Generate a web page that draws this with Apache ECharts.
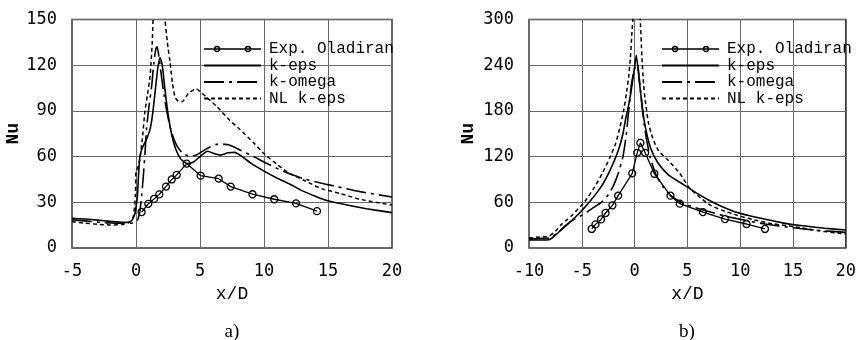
<!DOCTYPE html>
<html><head><meta charset="utf-8">
<script src="https://cdn.jsdelivr.net/npm/echarts@6/dist/echarts.min.js"></script>
<style>html,body{margin:0;padding:0;background:#fff}#c{width:859px;height:340px}</style>
</head><body><div id="c"></div>
<script>
const seriesNames = ['Exp. Oladiran', 'k-eps', 'k-omega', 'NL k-eps'];
const panelLabels = ['a)', 'b)'];
const xName = 'x/D', yName = 'Nu';
const leftXTicks = [-5, 20, 5];
const leftYTicks = [0, 150, 30];
const rightXTicks = [-10, 20, 5];
const rightYTicks = [0, 300, 60];

// panel a)
const leftExp = [[0.44,23.6],[0.96,29],[1.41,32.2],[1.82,35.2],[2.34,40.3],[2.79,45],[3.18,48],[3.96,55.4],[5.05,47.5],[6.46,45.5],[7.4,40.3],[9.1,35.3],[10.8,32],[12.5,29.3],[14.14,24.2]];
const leftKeps = [[-5,19.5],[-4,19],[-3,18.3],[-2,17.5],[-1,16.8],[-0.4,17.5],[-0.1,22],[0,27],[0.1,33],[0.2,48],[0.3,60],[0.5,66],[0.8,71],[1.1,78],[1.3,88],[1.5,103],[1.7,118],[1.88,125],[2.05,120],[2.25,105],[2.5,88],[2.8,74],[3.1,65],[3.5,58.5],[4.0,55.5],[4.5,56.5],[5.0,60],[5.6,63.5],[6.1,62],[6.6,61],[7.2,62.5],[7.7,62.8],[8.3,60],[9,55.5],[10,50.5],[11,46],[12,42],[13,37.5],[14,34],[15,31],[16.5,28.2],[18,25.8],[20,23.2]];
const leftKomega = [[-5,18.5],[-4,17.8],[-3,17],[-2,16.4],[-1,16.2],[-0.2,16.5],[0.1,18],[0.3,24],[0.45,35],[0.57,47],[0.7,62],[0.83,79],[1.0,92],[1.22,106],[1.4,122],[1.56,131],[1.65,132],[1.8,125],[2.0,112],[2.2,100],[2.4,90],[2.65,80],[2.9,73],[3.2,67],[3.57,63],[4.2,60],[4.7,61],[5.1,63],[5.7,66],[6.3,68],[7.0,68],[7.5,67],[8.2,64],[9.2,60],[10.1,56],[11.6,50],[13.1,45.5],[14.5,42.5],[15.7,40.3],[17.5,37],[20,33.5]];
const leftNL = [[-5,17.3],[-4,16.3],[-3,15.6],[-2,15.1],[-1,15.5],[-0.5,17],[-0.2,21],[-0.05,35],[0.0,50],[0.15,53],[0.3,58],[0.5,72],[0.7,90],[0.9,101],[1.1,113],[1.27,135],[1.4,165],[1.75,205],[2.1,175],[2.27,150],[2.45,135],[2.66,122],[2.85,108],[3.05,99],[3.3,96.5],[3.6,96],[4.1,101.5],[4.7,104.5],[5.1,102],[5.5,99],[6.3,93],[7.3,84],[8.1,78],[9.2,69],[10,62],[11,55],[11.8,50],[13.1,44.5],[14.5,39],[15.9,35.9],[17.5,32],[20,28.2]];

// panel b)
const rightExp = [[-4.06,25],[-3.7,31],[-3.18,37.5],[-2.75,46],[-2.1,56],[-1.56,68.7],[-0.22,98],[0.25,125],[0.55,138],[1.0,125],[1.875,97.5],[3.4,68.7],[4.28,58.2],[6.47,47.2],[8.56,38],[10.6,31.5],[12.35,25]];
const rightKeps = [[-10,10.5],[-9,10.5],[-8.1,10.8],[-7.5,17],[-7,23],[-6.2,33],[-5.5,42],[-4.94,50],[-4.3,60],[-3.5,74],[-3,84],[-2.5,97],[-2,112],[-1.5,130],[-1.1,150],[-0.87,168],[-0.6,185],[-0.4,200],[-0.2,218],[0,238],[0.16,253],[0.4,225],[0.7,188],[1.0,160],[1.5,132],[2.2,112],[3.2,96],[4.2,87],[5,80],[6,71],[7,63],[8,56],[9.4,48],[11,42],[12.6,37],[14,33],[15.7,29.5],[18,26],[20,23.6]];
const rightKomega = [[-10,12],[-9,12.5],[-8,13.5],[-7.3,20],[-6.5,30],[-5.8,37],[-5,43],[-4,52],[-3.06,61],[-2.5,70],[-2,82],[-1.5,100],[-1.1,120],[-0.8,148],[-0.56,180],[-0.3,215],[0,235],[0.25,242],[0.5,215],[0.8,175],[1.1,145],[1.5,118],[2,97],[2.7,80],[3.4,69],[4.28,61],[5.3,55],[6.47,50],[8.56,42],[10.6,36],[12.35,31.5],[15,26.5],[17.5,23],[20,20.5]];
const rightNL = [[-10,13],[-9,14.5],[-8.1,15.7],[-7.5,22],[-7,30],[-6.5,36],[-6,42],[-5.3,52],[-4.6,63],[-3.8,80],[-3.06,98],[-2.4,117],[-1.8,137],[-1.4,158],[-1.03,181],[-0.75,205],[-0.56,225],[-0.4,250],[-0.25,283],[-0.16,300],[0.15,360],[0.53,300],[0.69,252],[0.85,215],[1.0,195],[1.3,165],[1.7,145],[2.25,128],[3.2,115],[4.28,98],[5.2,79],[6.3,65],[7.2,56],[8.2,50],[9.7,43],[11.3,37],[13,32],[15.1,28],[17.5,22.5],[20,18.4]];

const panels = [
  {exp: leftExp, keps: leftKeps, komega: leftKomega, nl: leftNL, x: leftXTicks, y: leftYTicks},
  {exp: rightExp, keps: rightKeps, komega: rightKomega, nl: rightNL, x: rightXTicks, y: rightYTicks}
];

const gridLeft = [72, 529];
const tickFont = 'DejaVu Sans Mono';
const textFont = 'Liberation Mono';
const expIcon = 'path://M0,0 M57,12 M0,6 L57,6 M15.5,6 A2.5,2.5 0 1 0 10.5,6 A2.5,2.5 0 1 0 15.5,6 M46.5,6 A2.5,2.5 0 1 0 41.5,6 A2.5,2.5 0 1 0 46.5,6';

const chart = echarts.init(document.getElementById('c'), null, {renderer: 'canvas'});

const grids = [], xAxes = [], yAxes = [], series = [], legends = [], titles = [];
panels.forEach((p, i) => {
  grids.push({left: gridLeft[i], top: 19.5, width: 320, height: 228.5, show: true, borderColor: '#3a3a3a', borderWidth: 1.5, containLabel: false});
  xAxes.push({type: 'value', gridIndex: i, min: p.x[0], max: p.x[1], interval: p.x[2],
    name: xName, nameLocation: 'middle', nameGap: 33,
    nameTextStyle: {fontFamily: textFont, fontSize: 18, color: '#000'},
    axisLine: {show: false}, axisTick: {show: false},
    axisLabel: {fontFamily: tickFont, fontSize: 17, color: '#000', margin: 15},
    splitLine: {show: true, lineStyle: {color: '#6a6a6a', width: 1}}});
  yAxes.push({type: 'value', gridIndex: i, min: p.y[0], max: p.y[1], interval: p.y[2],
    name: yName, nameLocation: 'middle', nameRotate: 90, nameGap: i === 0 ? 42 : 52,
    nameTextStyle: {fontFamily: textFont, fontSize: 18, color: '#000', fontWeight: 'bold'},
    axisLine: {show: false}, axisTick: {show: false},
    axisLabel: {fontFamily: tickFont, fontSize: 17, color: '#000', margin: 15},
    splitLine: {show: true, lineStyle: {color: '#6a6a6a', width: 1}}});
  const common = {type: 'line', xAxisIndex: i, yAxisIndex: i, smooth: 0.2, symbol: 'none', clip: true, silent: true, z: 3};
  series.push(Object.assign({}, common, {name: seriesNames[1], data: p.keps, lineStyle: {color: '#000', width: 1.6, type: 'solid'}}));
  series.push(Object.assign({}, common, {name: seriesNames[2], data: p.komega, lineStyle: {color: '#000', width: 1.6, type: [20, 5, 3, 5]}}));
  series.push(Object.assign({}, common, {name: seriesNames[3], data: p.nl, lineStyle: {color: '#000', width: 1.5, type: [4, 3]}}));
  series.push({type: 'line', name: seriesNames[0], xAxisIndex: i, yAxisIndex: i, data: p.exp, smooth: false,
    symbol: 'circle', symbolSize: 7, showSymbol: true, silent: true, z: 4,
    itemStyle: {color: 'rgba(255,255,255,0)', borderColor: '#000', borderWidth: 1.3},
    lineStyle: {color: '#000', width: 1.3}});
  legends.push({orient: 'vertical', left: i === 0 ? 203 : 661, top: 41, padding: 0,
    itemWidth: 57, itemHeight: 12, itemGap: 0.5, selectedMode: false,
    data: [
      {name: seriesNames[0], icon: expIcon, itemStyle: {color: 'rgba(255,255,255,0)', borderColor: '#000', borderWidth: 1.3}},
      {name: seriesNames[1], itemStyle: {opacity: 0}},
      {name: seriesNames[2], itemStyle: {opacity: 0}},
      {name: seriesNames[3], itemStyle: {opacity: 0}}
    ],
    textStyle: {fontFamily: textFont, fontSize: 16, color: '#000', lineHeight: 16, padding: [0, 0, 0, 3]}});
  titles.push({text: panelLabels[i], left: i === 0 ? 232 : 687, top: 323, padding: 0, textAlign: 'center',
    textStyle: {fontFamily: 'Liberation Serif', fontSize: 19, fontWeight: 'normal', color: '#000'}});
});

chart.setOption({
  animation: false,
  backgroundColor: '#fff',
  color: ['#000'],
  title: titles,
  grid: grids,
  xAxis: xAxes,
  yAxis: yAxes,
  legend: legends,
  series: series
});
</script>
</body></html>
